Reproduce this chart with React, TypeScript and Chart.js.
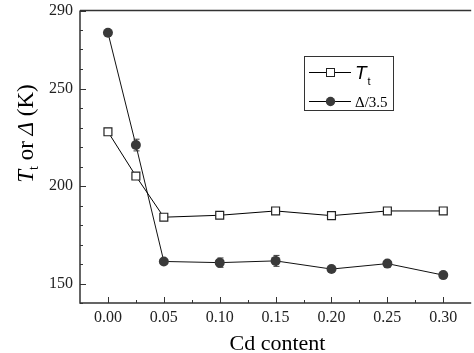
import React, { useEffect, useRef } from 'react';
import { Chart, registerables } from 'chart.js';

Chart.register(...registerables);

// ---- data ----
const cdContent = [0, 0.025, 0.05, 0.1, 0.15, 0.2, 0.25, 0.3];
const ttValues = [227.8, 205.1, 184.0, 185.0, 187.2, 184.8, 187.2, 187.2];
const deltaValues = [278.6, 221.0, 161.3, 160.7, 161.6, 157.4, 160.2, 154.3];
const deltaErrors = [1.0, 3.0, 0.8, 2.4, 2.8, 0.8, 1.0, 0.8];

const yTickValues = [140, 150, 160, 170, 180, 190, 200, 210, 220, 230, 240, 250, 260, 270, 280, 290];
const yLabelled = [150, 200, 250, 290];
const xTickValues = [0, 0.025, 0.05, 0.075, 0.1, 0.125, 0.15, 0.175, 0.2, 0.225, 0.25, 0.275, 0.3];
const xLabelled = ['0.00', '0.05', '0.10', '0.15', '0.20', '0.25', '0.30'];

const legendLabels = ['T', 'Δ/3.5'];

const SERIF = "'Liberation Serif', 'Times New Roman', serif";
const SANS = "'Liberation Sans', Arial, sans-serif";
const FRAME = '#333';
const DOT = '#3a3a3a';

const decorPlugin = {
  id: 'decor',
  afterDatasetsDraw(chart: any) {
    const { ctx, scales } = chart;
    const x = scales.x;
    const y = scales.y;
    ctx.save();
    ctx.strokeStyle = DOT;
    ctx.lineWidth = 1;
    cdContent.forEach((cx, i) => {
      const px = Math.round(x.getPixelForValue(cx)) + 0.5;
      const top = y.getPixelForValue(deltaValues[i] + deltaErrors[i]);
      const bot = y.getPixelForValue(deltaValues[i] - deltaErrors[i]);
      ctx.beginPath();
      ctx.moveTo(px, top);
      ctx.lineTo(px, bot);
      ctx.moveTo(px - 3, top);
      ctx.lineTo(px + 3, top);
      ctx.moveTo(px - 3, bot);
      ctx.lineTo(px + 3, bot);
      ctx.stroke();
    });
    ctx.restore();
  },
  afterDraw(chart: any) {
    const { ctx, chartArea: a, scales } = chart;
    const x = scales.x;
    const y = scales.y;
    ctx.save();
    // inward ticks
    ctx.strokeStyle = FRAME;
    ctx.lineWidth = 1;
    ctx.beginPath();
    y.ticks.forEach((t: any) => {
      const py = Math.round(y.getPixelForValue(t.value)) + 0.5;
      const len = t.label ? 6 : 3;
      ctx.moveTo(a.left, py);
      ctx.lineTo(a.left + len, py);
    });
    x.ticks.forEach((t: any) => {
      const px = Math.round(x.getPixelForValue(t.value)) + 0.5;
      const len = t.label ? 6 : 3;
      ctx.moveTo(px, a.bottom);
      ctx.lineTo(px, a.bottom - len);
    });
    ctx.stroke();
    // frame
    ctx.lineWidth = 1.5;
    ctx.beginPath();
    ctx.moveTo(a.left, a.top);
    ctx.lineTo(a.right, a.top);
    ctx.moveTo(a.left, a.top);
    ctx.lineTo(a.left, a.bottom);
    ctx.lineTo(a.right, a.bottom);
    ctx.stroke();

    // legend
    ctx.lineWidth = 1;
    ctx.strokeStyle = FRAME;
    ctx.strokeRect(304.5, 56.5, 89, 54);
    ctx.strokeStyle = '#000';
    ctx.beginPath();
    ctx.moveTo(309, 72.5);
    ctx.lineTo(351, 72.5);
    ctx.moveTo(309, 101.5);
    ctx.lineTo(351, 101.5);
    ctx.stroke();
    ctx.fillStyle = '#fff';
    ctx.fillRect(326.5, 68.5, 8, 8);
    ctx.strokeStyle = '#222';
    ctx.strokeRect(326.5, 68.5, 8, 8);
    ctx.fillStyle = DOT;
    ctx.beginPath();
    ctx.arc(330.5, 101.5, 4.7, 0, Math.PI * 2);
    ctx.fill();

    ctx.fillStyle = '#000';
    ctx.textBaseline = 'alphabetic';
    ctx.textAlign = 'left';
    ctx.font = `italic 19px ${SANS}`;
    ctx.fillText(legendLabels[0], 355, 79);
    const tw = ctx.measureText(legendLabels[0]).width;
    ctx.font = `11px ${SANS}`;
    ctx.fillText('t', 355 + tw + 1, 85);
    ctx.font = `15px ${SERIF}`;
    ctx.fillText(legendLabels[1], 355, 107);

    // x title
    ctx.font = `22px ${SERIF}`;
    ctx.textAlign = 'center';
    ctx.fillText('Cd content', 277.5, 350);

    // y title (rotated, mixed styles)
    const parts = [
      { t: 'T', f: `italic 23px ${SERIF}`, dy: 0 },
      { t: 't', f: `14px ${SERIF}`, dy: 5 },
      { t: ' or ', f: `23px ${SERIF}`, dy: 0 },
      { t: 'Δ', f: `italic 23px ${SERIF}`, dy: 0 },
      { t: ' (K)', f: `23px ${SERIF}`, dy: 0 },
    ];
    ctx.textAlign = 'left';
    let total = 0;
    parts.forEach((p) => {
      ctx.font = p.f;
      total += ctx.measureText(p.t).width;
    });
    ctx.translate(33, 133.5);
    ctx.rotate(-Math.PI / 2);
    let cx = -total / 2;
    parts.forEach((p) => {
      ctx.font = p.f;
      ctx.fillText(p.t, cx, p.dy);
      cx += ctx.measureText(p.t).width;
    });
    ctx.restore();
  },
};

export default function App() {
  const ref = useRef<HTMLCanvasElement | null>(null);
  useEffect(() => {
    if (!ref.current) return;
    const chart = new Chart(ref.current, {
      type: 'line',
      data: {
        datasets: [
          {
            label: 'Tt',
            data: cdContent.map((c, i) => ({ x: c, y: ttValues[i] })),
            borderColor: '#000',
            borderWidth: 1,
            pointStyle: 'rect',
            pointRadius: 5.6,
            pointBackgroundColor: '#fff',
            pointBorderColor: '#222',
            pointBorderWidth: 1.2,
            tension: 0,
          },
          {
            label: 'Δ/3.5',
            data: cdContent.map((c, i) => ({ x: c, y: deltaValues[i] })),
            borderColor: '#111',
            borderWidth: 1,
            pointStyle: 'circle',
            pointRadius: 5,
            pointBackgroundColor: DOT,
            pointBorderColor: DOT,
            pointBorderWidth: 0,
            tension: 0,
          },
        ],
      },
      options: {
        responsive: false,
        animation: false,
        layout: { padding: { top: 10.5, left: 0, right: 0, bottom: 0 } },
        plugins: { legend: { display: false }, tooltip: { enabled: false } },
        scales: {
          x: {
            type: 'linear',
            min: -0.025,
            max: 0.325,
            afterBuildTicks: (s: any) => {
              s.ticks = xTickValues.map((v) => ({ value: v }));
            },
            afterFit: (s: any) => {
              s.height = 50;
              s.paddingLeft = 0;
              s.paddingRight = 0;
              s.paddingTop = 0;
              s.paddingBottom = 0;
            },
            grid: { display: false, drawTicks: false },
            border: { display: false },
            ticks: {
              autoSkip: false,
              maxRotation: 0,
              padding: 5,
              color: '#222',
              font: { family: SERIF, size: 16 },
              callback: (v: any) => {
                const s = Number(v).toFixed(2);
                return xLabelled.includes(s) && Math.abs(v * 20 - Math.round(v * 20)) < 1e-6 ? s : '';
              },
            },
          },
          y: {
            type: 'linear',
            min: 140,
            max: 290,
            afterBuildTicks: (s: any) => {
              s.ticks = yTickValues.map((v) => ({ value: v }));
            },
            afterFit: (s: any) => {
              s.width = 80;
              s.paddingLeft = 0;
              s.paddingRight = 0;
              s.paddingTop = 0;
              s.paddingBottom = 0;
            },
            grid: { display: false, drawTicks: false },
            border: { display: false },
            ticks: {
              autoSkip: false,
              padding: 7,
              color: '#222',
              font: { family: SERIF, size: 16 },
              callback: (v: any) => (yLabelled.includes(Number(v)) ? String(v) : ''),
            },
          },
        },
      },
      plugins: [decorPlugin],
    });
    return () => chart.destroy();
  }, []);
  return (
    <div style={{ position: 'absolute', left: 0, top: 0, width: 474, height: 353, overflow: 'hidden', background: '#fff' }}>
      <canvas ref={ref} width={478} height={353} style={{ display: 'block' }} />
    </div>
  );
}
